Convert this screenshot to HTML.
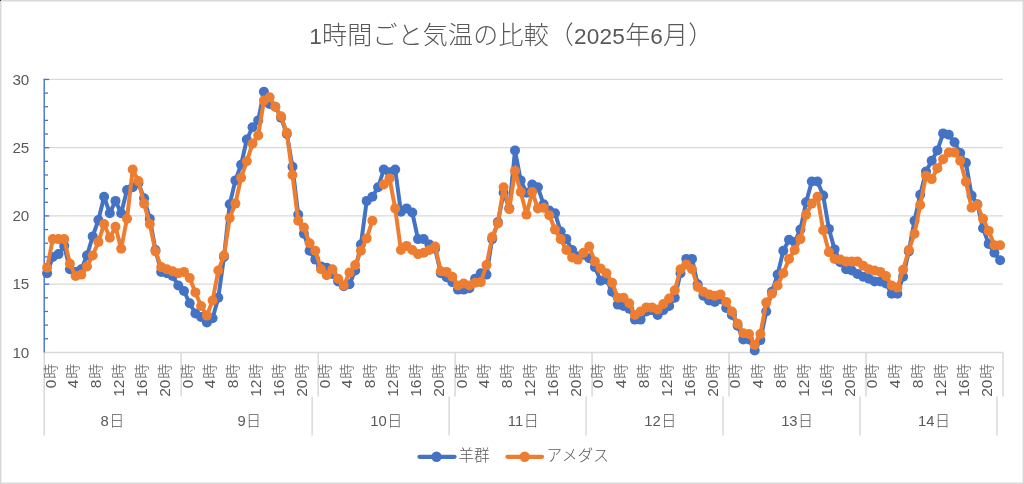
<!DOCTYPE html>
<html lang="ja"><head><meta charset="utf-8"><title>1時間ごと気温の比較（2025年6月）</title>
<style>html,body{margin:0;padding:0;background:#fff;}body{width:1024px;height:484px;overflow:hidden;}svg{display:block;will-change:transform;}text{font-family:"Liberation Sans","Noto Sans CJK JP",sans-serif;fill:#595959;}.j{font-family:"Noto Sans CJK JP",sans-serif;font-weight:300;}.n{font-family:"Liberation Sans",sans-serif;}</style></head><body>
<svg width="1024" height="484" viewBox="0 0 1024 484">
<rect x="0" y="0" width="1024" height="484" fill="#fff"/>
<rect x="0.75" y="0.75" width="1022.5" height="482.5" fill="none" stroke="#D9D9D9" stroke-width="1.5"/>
<rect x="0" y="0" width="1" height="1" fill="#3a3a3a"/>
<line x1="44.2" y1="79.45" x2="1003" y2="79.45" stroke="#D9D9D9" stroke-width="1.3"/>
<line x1="44.2" y1="147.688" x2="1003" y2="147.688" stroke="#D9D9D9" stroke-width="1.3"/>
<line x1="44.2" y1="215.925" x2="1003" y2="215.925" stroke="#D9D9D9" stroke-width="1.3"/>
<line x1="44.2" y1="284.162" x2="1003" y2="284.162" stroke="#D9D9D9" stroke-width="1.3"/>
<line x1="44.2" y1="352.4" x2="1003" y2="352.4" stroke="#D9D9D9" stroke-width="1.5"/>
<line x1="44.2" y1="352.4" x2="44.2" y2="435.5" stroke="#D9D9D9" stroke-width="1.5"/>
<line x1="181.171" y1="352.4" x2="181.171" y2="396.6" stroke="#D9D9D9" stroke-width="1.5"/>
<line x1="318.143" y1="352.4" x2="318.143" y2="396.6" stroke="#D9D9D9" stroke-width="1.5"/>
<line x1="455.114" y1="352.4" x2="455.114" y2="396.6" stroke="#D9D9D9" stroke-width="1.5"/>
<line x1="592.086" y1="352.4" x2="592.086" y2="396.6" stroke="#D9D9D9" stroke-width="1.5"/>
<line x1="729.057" y1="352.4" x2="729.057" y2="396.6" stroke="#D9D9D9" stroke-width="1.5"/>
<line x1="866.029" y1="352.4" x2="866.029" y2="396.6" stroke="#D9D9D9" stroke-width="1.5"/>
<line x1="1003" y1="352.4" x2="1003" y2="396.6" stroke="#D9D9D9" stroke-width="1.5"/>
<line x1="312.143" y1="396.6" x2="312.143" y2="435.5" stroke="#D9D9D9" stroke-width="1.5"/>
<line x1="449.114" y1="396.6" x2="449.114" y2="435.5" stroke="#D9D9D9" stroke-width="1.5"/>
<line x1="586.086" y1="396.6" x2="586.086" y2="435.5" stroke="#D9D9D9" stroke-width="1.5"/>
<line x1="723.057" y1="396.6" x2="723.057" y2="435.5" stroke="#D9D9D9" stroke-width="1.5"/>
<line x1="860.029" y1="396.6" x2="860.029" y2="435.5" stroke="#D9D9D9" stroke-width="1.5"/>
<line x1="997" y1="396.6" x2="997" y2="435.5" stroke="#D9D9D9" stroke-width="1.5"/>
<text class="n" x="29.3" y="84.75" font-size="15.2" text-anchor="end">30</text>
<text class="n" x="29.3" y="152.988" font-size="15.2" text-anchor="end">25</text>
<text class="n" x="29.3" y="221.225" font-size="15.2" text-anchor="end">20</text>
<text class="n" x="29.3" y="289.462" font-size="15.2" text-anchor="end">15</text>
<text class="n" x="29.3" y="357.7" font-size="15.2" text-anchor="end">10</text>
<text transform="translate(55.60,363.8) rotate(-90)" text-anchor="end"><tspan class="n" font-size="15.5">0</tspan><tspan class="j" font-size="15" dx="0.8">時</tspan></text>
<text transform="translate(78.43,363.8) rotate(-90)" text-anchor="end"><tspan class="n" font-size="15.5">4</tspan><tspan class="j" font-size="15" dx="0.8">時</tspan></text>
<text transform="translate(101.26,363.8) rotate(-90)" text-anchor="end"><tspan class="n" font-size="15.5">8</tspan><tspan class="j" font-size="15" dx="0.8">時</tspan></text>
<text transform="translate(124.09,363.8) rotate(-90)" text-anchor="end"><tspan class="n" font-size="15.5">12</tspan><tspan class="j" font-size="15" dx="0.8">時</tspan></text>
<text transform="translate(146.91,363.8) rotate(-90)" text-anchor="end"><tspan class="n" font-size="15.5">16</tspan><tspan class="j" font-size="15" dx="0.8">時</tspan></text>
<text transform="translate(169.74,363.8) rotate(-90)" text-anchor="end"><tspan class="n" font-size="15.5">20</tspan><tspan class="j" font-size="15" dx="0.8">時</tspan></text>
<text transform="translate(192.57,363.8) rotate(-90)" text-anchor="end"><tspan class="n" font-size="15.5">0</tspan><tspan class="j" font-size="15" dx="0.8">時</tspan></text>
<text transform="translate(215.40,363.8) rotate(-90)" text-anchor="end"><tspan class="n" font-size="15.5">4</tspan><tspan class="j" font-size="15" dx="0.8">時</tspan></text>
<text transform="translate(238.23,363.8) rotate(-90)" text-anchor="end"><tspan class="n" font-size="15.5">8</tspan><tspan class="j" font-size="15" dx="0.8">時</tspan></text>
<text transform="translate(261.06,363.8) rotate(-90)" text-anchor="end"><tspan class="n" font-size="15.5">12</tspan><tspan class="j" font-size="15" dx="0.8">時</tspan></text>
<text transform="translate(283.89,363.8) rotate(-90)" text-anchor="end"><tspan class="n" font-size="15.5">16</tspan><tspan class="j" font-size="15" dx="0.8">時</tspan></text>
<text transform="translate(306.71,363.8) rotate(-90)" text-anchor="end"><tspan class="n" font-size="15.5">20</tspan><tspan class="j" font-size="15" dx="0.8">時</tspan></text>
<text transform="translate(329.54,363.8) rotate(-90)" text-anchor="end"><tspan class="n" font-size="15.5">0</tspan><tspan class="j" font-size="15" dx="0.8">時</tspan></text>
<text transform="translate(352.37,363.8) rotate(-90)" text-anchor="end"><tspan class="n" font-size="15.5">4</tspan><tspan class="j" font-size="15" dx="0.8">時</tspan></text>
<text transform="translate(375.20,363.8) rotate(-90)" text-anchor="end"><tspan class="n" font-size="15.5">8</tspan><tspan class="j" font-size="15" dx="0.8">時</tspan></text>
<text transform="translate(398.03,363.8) rotate(-90)" text-anchor="end"><tspan class="n" font-size="15.5">12</tspan><tspan class="j" font-size="15" dx="0.8">時</tspan></text>
<text transform="translate(420.86,363.8) rotate(-90)" text-anchor="end"><tspan class="n" font-size="15.5">16</tspan><tspan class="j" font-size="15" dx="0.8">時</tspan></text>
<text transform="translate(443.69,363.8) rotate(-90)" text-anchor="end"><tspan class="n" font-size="15.5">20</tspan><tspan class="j" font-size="15" dx="0.8">時</tspan></text>
<text transform="translate(466.51,363.8) rotate(-90)" text-anchor="end"><tspan class="n" font-size="15.5">0</tspan><tspan class="j" font-size="15" dx="0.8">時</tspan></text>
<text transform="translate(489.34,363.8) rotate(-90)" text-anchor="end"><tspan class="n" font-size="15.5">4</tspan><tspan class="j" font-size="15" dx="0.8">時</tspan></text>
<text transform="translate(512.17,363.8) rotate(-90)" text-anchor="end"><tspan class="n" font-size="15.5">8</tspan><tspan class="j" font-size="15" dx="0.8">時</tspan></text>
<text transform="translate(535.00,363.8) rotate(-90)" text-anchor="end"><tspan class="n" font-size="15.5">12</tspan><tspan class="j" font-size="15" dx="0.8">時</tspan></text>
<text transform="translate(557.83,363.8) rotate(-90)" text-anchor="end"><tspan class="n" font-size="15.5">16</tspan><tspan class="j" font-size="15" dx="0.8">時</tspan></text>
<text transform="translate(580.66,363.8) rotate(-90)" text-anchor="end"><tspan class="n" font-size="15.5">20</tspan><tspan class="j" font-size="15" dx="0.8">時</tspan></text>
<text transform="translate(603.49,363.8) rotate(-90)" text-anchor="end"><tspan class="n" font-size="15.5">0</tspan><tspan class="j" font-size="15" dx="0.8">時</tspan></text>
<text transform="translate(626.31,363.8) rotate(-90)" text-anchor="end"><tspan class="n" font-size="15.5">4</tspan><tspan class="j" font-size="15" dx="0.8">時</tspan></text>
<text transform="translate(649.14,363.8) rotate(-90)" text-anchor="end"><tspan class="n" font-size="15.5">8</tspan><tspan class="j" font-size="15" dx="0.8">時</tspan></text>
<text transform="translate(671.97,363.8) rotate(-90)" text-anchor="end"><tspan class="n" font-size="15.5">12</tspan><tspan class="j" font-size="15" dx="0.8">時</tspan></text>
<text transform="translate(694.80,363.8) rotate(-90)" text-anchor="end"><tspan class="n" font-size="15.5">16</tspan><tspan class="j" font-size="15" dx="0.8">時</tspan></text>
<text transform="translate(717.63,363.8) rotate(-90)" text-anchor="end"><tspan class="n" font-size="15.5">20</tspan><tspan class="j" font-size="15" dx="0.8">時</tspan></text>
<text transform="translate(740.46,363.8) rotate(-90)" text-anchor="end"><tspan class="n" font-size="15.5">0</tspan><tspan class="j" font-size="15" dx="0.8">時</tspan></text>
<text transform="translate(763.29,363.8) rotate(-90)" text-anchor="end"><tspan class="n" font-size="15.5">4</tspan><tspan class="j" font-size="15" dx="0.8">時</tspan></text>
<text transform="translate(786.11,363.8) rotate(-90)" text-anchor="end"><tspan class="n" font-size="15.5">8</tspan><tspan class="j" font-size="15" dx="0.8">時</tspan></text>
<text transform="translate(808.94,363.8) rotate(-90)" text-anchor="end"><tspan class="n" font-size="15.5">12</tspan><tspan class="j" font-size="15" dx="0.8">時</tspan></text>
<text transform="translate(831.77,363.8) rotate(-90)" text-anchor="end"><tspan class="n" font-size="15.5">16</tspan><tspan class="j" font-size="15" dx="0.8">時</tspan></text>
<text transform="translate(854.60,363.8) rotate(-90)" text-anchor="end"><tspan class="n" font-size="15.5">20</tspan><tspan class="j" font-size="15" dx="0.8">時</tspan></text>
<text transform="translate(877.43,363.8) rotate(-90)" text-anchor="end"><tspan class="n" font-size="15.5">0</tspan><tspan class="j" font-size="15" dx="0.8">時</tspan></text>
<text transform="translate(900.26,363.8) rotate(-90)" text-anchor="end"><tspan class="n" font-size="15.5">4</tspan><tspan class="j" font-size="15" dx="0.8">時</tspan></text>
<text transform="translate(923.09,363.8) rotate(-90)" text-anchor="end"><tspan class="n" font-size="15.5">8</tspan><tspan class="j" font-size="15" dx="0.8">時</tspan></text>
<text transform="translate(945.91,363.8) rotate(-90)" text-anchor="end"><tspan class="n" font-size="15.5">12</tspan><tspan class="j" font-size="15" dx="0.8">時</tspan></text>
<text transform="translate(968.74,363.8) rotate(-90)" text-anchor="end"><tspan class="n" font-size="15.5">16</tspan><tspan class="j" font-size="15" dx="0.8">時</tspan></text>
<text transform="translate(991.57,363.8) rotate(-90)" text-anchor="end"><tspan class="n" font-size="15.5">20</tspan><tspan class="j" font-size="15" dx="0.8">時</tspan></text>
<text x="112.29" y="426.3" text-anchor="middle"><tspan class="n" font-size="14.8">8</tspan><tspan class="j" font-size="15" dx="0.5">日</tspan></text>
<text x="249.26" y="426.3" text-anchor="middle"><tspan class="n" font-size="14.8">9</tspan><tspan class="j" font-size="15" dx="0.5">日</tspan></text>
<text x="386.23" y="426.3" text-anchor="middle"><tspan class="n" font-size="14.8">10</tspan><tspan class="j" font-size="15" dx="0.5">日</tspan></text>
<text x="523.20" y="426.3" text-anchor="middle"><tspan class="n" font-size="14.8">11</tspan><tspan class="j" font-size="15" dx="0.5">日</tspan></text>
<text x="660.17" y="426.3" text-anchor="middle"><tspan class="n" font-size="14.8">12</tspan><tspan class="j" font-size="15" dx="0.5">日</tspan></text>
<text x="797.14" y="426.3" text-anchor="middle"><tspan class="n" font-size="14.8">13</tspan><tspan class="j" font-size="15" dx="0.5">日</tspan></text>
<text x="934.11" y="426.3" text-anchor="middle"><tspan class="n" font-size="14.8">14</tspan><tspan class="j" font-size="15" dx="0.5">日</tspan></text>
<text x="511.4" y="43.9" text-anchor="middle" letter-spacing="0.2" fill="#595959"><tspan class="n" font-size="22.6">1</tspan><tspan class="j" font-size="25">時間ごと気温の比較（</tspan><tspan class="n" font-size="22.6">2025</tspan><tspan class="j" font-size="25">年</tspan><tspan class="n" font-size="22.6">6</tspan><tspan class="j" font-size="25">月）</tspan></text>
<line x1="44.2" y1="78.85" x2="44.2" y2="352.4" stroke="#4472C4" stroke-width="1.4"/>
<line x1="44.2" y1="338.752" x2="48" y2="338.752" stroke="#4472C4" stroke-width="1.3"/>
<line x1="44.2" y1="325.105" x2="48" y2="325.105" stroke="#4472C4" stroke-width="1.3"/>
<line x1="44.2" y1="311.457" x2="48" y2="311.457" stroke="#4472C4" stroke-width="1.3"/>
<line x1="44.2" y1="297.81" x2="48" y2="297.81" stroke="#4472C4" stroke-width="1.3"/>
<line x1="44.2" y1="284.162" x2="49.2" y2="284.162" stroke="#4472C4" stroke-width="1.3"/>
<line x1="44.2" y1="270.515" x2="48" y2="270.515" stroke="#4472C4" stroke-width="1.3"/>
<line x1="44.2" y1="256.867" x2="48" y2="256.867" stroke="#4472C4" stroke-width="1.3"/>
<line x1="44.2" y1="243.22" x2="48" y2="243.22" stroke="#4472C4" stroke-width="1.3"/>
<line x1="44.2" y1="229.572" x2="48" y2="229.572" stroke="#4472C4" stroke-width="1.3"/>
<line x1="44.2" y1="215.925" x2="49.2" y2="215.925" stroke="#4472C4" stroke-width="1.3"/>
<line x1="44.2" y1="202.277" x2="48" y2="202.277" stroke="#4472C4" stroke-width="1.3"/>
<line x1="44.2" y1="188.63" x2="48" y2="188.63" stroke="#4472C4" stroke-width="1.3"/>
<line x1="44.2" y1="174.982" x2="48" y2="174.982" stroke="#4472C4" stroke-width="1.3"/>
<line x1="44.2" y1="161.335" x2="48" y2="161.335" stroke="#4472C4" stroke-width="1.3"/>
<line x1="44.2" y1="147.688" x2="49.2" y2="147.688" stroke="#4472C4" stroke-width="1.3"/>
<line x1="44.2" y1="134.04" x2="48" y2="134.04" stroke="#4472C4" stroke-width="1.3"/>
<line x1="44.2" y1="120.392" x2="48" y2="120.392" stroke="#4472C4" stroke-width="1.3"/>
<line x1="44.2" y1="106.745" x2="48" y2="106.745" stroke="#4472C4" stroke-width="1.3"/>
<line x1="44.2" y1="93.0975" x2="48" y2="93.0975" stroke="#4472C4" stroke-width="1.3"/>
<line x1="44.2" y1="79.45" x2="49.2" y2="79.45" stroke="#4472C4" stroke-width="1.3"/>
<polyline fill="none" stroke="#4472C4" stroke-width="4" stroke-linejoin="round" stroke-linecap="round" points="47.1,273.2 52.8,256.9 58.5,254.1 64.2,245.9 69.9,269.2 75.6,271.9 81.3,269.2 87.0,255.5 92.7,236.4 98.4,220.0 104.1,196.8 109.8,213.2 115.5,200.9 121.2,213.2 127.0,190.0 132.7,187.3 138.4,183.2 144.1,198.2 149.8,218.7 155.5,250.0 161.2,271.9 166.9,273.2 172.6,276.0 178.3,285.5 184.0,291.0 189.7,303.3 195.4,313.5 201.1,316.9 206.9,322.4 212.6,318.3 218.3,297.8 224.0,256.9 229.7,204.2 235.4,180.4 241.1,164.7 246.8,139.5 252.5,127.2 258.2,120.4 263.9,91.7 269.6,104.0 275.3,106.7 281.0,117.7 286.8,134.0 292.5,166.8 298.2,214.6 303.9,233.7 309.6,250.7 315.3,259.6 321.0,266.4 326.7,267.8 332.4,273.9 338.1,281.4 343.8,286.2 349.5,284.2 355.2,270.5 360.9,244.6 366.7,200.9 372.4,196.8 378.1,187.3 383.8,169.5 389.5,172.3 395.2,169.5 400.9,211.8 406.6,208.4 412.3,212.5 418.0,239.1 423.7,239.1 429.4,244.6 435.1,248.7 440.8,273.2 446.6,277.3 452.3,282.1 458.0,289.6 463.7,289.6 469.4,288.3 475.1,278.7 480.8,273.2 486.5,274.6 492.2,239.1 497.9,222.1 503.6,192.7 509.3,208.4 515.0,150.4 520.7,180.4 526.5,192.7 532.2,184.5 537.9,187.3 543.6,204.3 549.3,210.5 555.0,213.2 560.7,231.6 566.4,239.1 572.1,250.0 577.8,256.2 583.5,254.8 589.2,258.2 594.9,267.1 600.6,280.8 606.4,279.4 612.1,291.7 617.8,304.6 623.5,306.0 629.2,308.7 634.9,319.6 640.6,319.6 646.3,311.5 652.0,310.1 657.7,314.9 663.4,310.1 669.1,306.0 674.8,297.8 680.5,273.2 686.3,258.9 692.0,258.9 697.7,284.2 703.4,295.8 709.1,300.5 714.8,301.9 720.5,299.2 726.2,308.0 731.9,314.9 737.6,325.8 743.3,339.4 749.0,339.4 754.7,350.4 760.4,340.1 766.2,311.5 771.9,291.7 777.6,274.6 783.3,250.7 789.0,239.8 794.7,241.9 800.4,229.6 806.1,202.3 811.8,181.5 817.5,181.5 823.2,195.5 828.9,228.9 834.6,249.4 840.3,262.3 846.1,269.2 851.8,270.5 857.5,273.9 863.2,276.7 868.9,278.7 874.6,281.4 880.3,281.4 886.0,283.5 891.7,293.7 897.4,293.7 903.1,276.7 908.8,251.4 914.5,220.7 920.2,194.8 926.0,171.6 931.7,160.7 937.4,150.4 943.1,133.4 948.8,134.7 954.5,142.2 960.2,153.1 965.9,162.7 971.6,195.5 977.3,204.3 983.0,228.2 988.7,243.9 994.4,252.8 1000.1,260.3"/>
<g fill="#4472C4"><circle cx="47.1" cy="273.2" r="5.0"/><circle cx="52.8" cy="256.9" r="5.0"/><circle cx="58.5" cy="254.1" r="5.0"/><circle cx="64.2" cy="245.9" r="5.0"/><circle cx="69.9" cy="269.2" r="5.0"/><circle cx="75.6" cy="271.9" r="5.0"/><circle cx="81.3" cy="269.2" r="5.0"/><circle cx="87.0" cy="255.5" r="5.0"/><circle cx="92.7" cy="236.4" r="5.0"/><circle cx="98.4" cy="220.0" r="5.0"/><circle cx="104.1" cy="196.8" r="5.0"/><circle cx="109.8" cy="213.2" r="5.0"/><circle cx="115.5" cy="200.9" r="5.0"/><circle cx="121.2" cy="213.2" r="5.0"/><circle cx="127.0" cy="190.0" r="5.0"/><circle cx="132.7" cy="187.3" r="5.0"/><circle cx="138.4" cy="183.2" r="5.0"/><circle cx="144.1" cy="198.2" r="5.0"/><circle cx="149.8" cy="218.7" r="5.0"/><circle cx="155.5" cy="250.0" r="5.0"/><circle cx="161.2" cy="271.9" r="5.0"/><circle cx="166.9" cy="273.2" r="5.0"/><circle cx="172.6" cy="276.0" r="5.0"/><circle cx="178.3" cy="285.5" r="5.0"/><circle cx="184.0" cy="291.0" r="5.0"/><circle cx="189.7" cy="303.3" r="5.0"/><circle cx="195.4" cy="313.5" r="5.0"/><circle cx="201.1" cy="316.9" r="5.0"/><circle cx="206.9" cy="322.4" r="5.0"/><circle cx="212.6" cy="318.3" r="5.0"/><circle cx="218.3" cy="297.8" r="5.0"/><circle cx="224.0" cy="256.9" r="5.0"/><circle cx="229.7" cy="204.2" r="5.0"/><circle cx="235.4" cy="180.4" r="5.0"/><circle cx="241.1" cy="164.7" r="5.0"/><circle cx="246.8" cy="139.5" r="5.0"/><circle cx="252.5" cy="127.2" r="5.0"/><circle cx="258.2" cy="120.4" r="5.0"/><circle cx="263.9" cy="91.7" r="5.0"/><circle cx="269.6" cy="104.0" r="5.0"/><circle cx="275.3" cy="106.7" r="5.0"/><circle cx="281.0" cy="117.7" r="5.0"/><circle cx="286.8" cy="134.0" r="5.0"/><circle cx="292.5" cy="166.8" r="5.0"/><circle cx="298.2" cy="214.6" r="5.0"/><circle cx="303.9" cy="233.7" r="5.0"/><circle cx="309.6" cy="250.7" r="5.0"/><circle cx="315.3" cy="259.6" r="5.0"/><circle cx="321.0" cy="266.4" r="5.0"/><circle cx="326.7" cy="267.8" r="5.0"/><circle cx="332.4" cy="273.9" r="5.0"/><circle cx="338.1" cy="281.4" r="5.0"/><circle cx="343.8" cy="286.2" r="5.0"/><circle cx="349.5" cy="284.2" r="5.0"/><circle cx="355.2" cy="270.5" r="5.0"/><circle cx="360.9" cy="244.6" r="5.0"/><circle cx="366.7" cy="200.9" r="5.0"/><circle cx="372.4" cy="196.8" r="5.0"/><circle cx="378.1" cy="187.3" r="5.0"/><circle cx="383.8" cy="169.5" r="5.0"/><circle cx="389.5" cy="172.3" r="5.0"/><circle cx="395.2" cy="169.5" r="5.0"/><circle cx="400.9" cy="211.8" r="5.0"/><circle cx="406.6" cy="208.4" r="5.0"/><circle cx="412.3" cy="212.5" r="5.0"/><circle cx="418.0" cy="239.1" r="5.0"/><circle cx="423.7" cy="239.1" r="5.0"/><circle cx="429.4" cy="244.6" r="5.0"/><circle cx="435.1" cy="248.7" r="5.0"/><circle cx="440.8" cy="273.2" r="5.0"/><circle cx="446.6" cy="277.3" r="5.0"/><circle cx="452.3" cy="282.1" r="5.0"/><circle cx="458.0" cy="289.6" r="5.0"/><circle cx="463.7" cy="289.6" r="5.0"/><circle cx="469.4" cy="288.3" r="5.0"/><circle cx="475.1" cy="278.7" r="5.0"/><circle cx="480.8" cy="273.2" r="5.0"/><circle cx="486.5" cy="274.6" r="5.0"/><circle cx="492.2" cy="239.1" r="5.0"/><circle cx="497.9" cy="222.1" r="5.0"/><circle cx="503.6" cy="192.7" r="5.0"/><circle cx="509.3" cy="208.4" r="5.0"/><circle cx="515.0" cy="150.4" r="5.0"/><circle cx="520.7" cy="180.4" r="5.0"/><circle cx="526.5" cy="192.7" r="5.0"/><circle cx="532.2" cy="184.5" r="5.0"/><circle cx="537.9" cy="187.3" r="5.0"/><circle cx="543.6" cy="204.3" r="5.0"/><circle cx="549.3" cy="210.5" r="5.0"/><circle cx="555.0" cy="213.2" r="5.0"/><circle cx="560.7" cy="231.6" r="5.0"/><circle cx="566.4" cy="239.1" r="5.0"/><circle cx="572.1" cy="250.0" r="5.0"/><circle cx="577.8" cy="256.2" r="5.0"/><circle cx="583.5" cy="254.8" r="5.0"/><circle cx="589.2" cy="258.2" r="5.0"/><circle cx="594.9" cy="267.1" r="5.0"/><circle cx="600.6" cy="280.8" r="5.0"/><circle cx="606.4" cy="279.4" r="5.0"/><circle cx="612.1" cy="291.7" r="5.0"/><circle cx="617.8" cy="304.6" r="5.0"/><circle cx="623.5" cy="306.0" r="5.0"/><circle cx="629.2" cy="308.7" r="5.0"/><circle cx="634.9" cy="319.6" r="5.0"/><circle cx="640.6" cy="319.6" r="5.0"/><circle cx="646.3" cy="311.5" r="5.0"/><circle cx="652.0" cy="310.1" r="5.0"/><circle cx="657.7" cy="314.9" r="5.0"/><circle cx="663.4" cy="310.1" r="5.0"/><circle cx="669.1" cy="306.0" r="5.0"/><circle cx="674.8" cy="297.8" r="5.0"/><circle cx="680.5" cy="273.2" r="5.0"/><circle cx="686.3" cy="258.9" r="5.0"/><circle cx="692.0" cy="258.9" r="5.0"/><circle cx="697.7" cy="284.2" r="5.0"/><circle cx="703.4" cy="295.8" r="5.0"/><circle cx="709.1" cy="300.5" r="5.0"/><circle cx="714.8" cy="301.9" r="5.0"/><circle cx="720.5" cy="299.2" r="5.0"/><circle cx="726.2" cy="308.0" r="5.0"/><circle cx="731.9" cy="314.9" r="5.0"/><circle cx="737.6" cy="325.8" r="5.0"/><circle cx="743.3" cy="339.4" r="5.0"/><circle cx="749.0" cy="339.4" r="5.0"/><circle cx="754.7" cy="350.4" r="5.0"/><circle cx="760.4" cy="340.1" r="5.0"/><circle cx="766.2" cy="311.5" r="5.0"/><circle cx="771.9" cy="291.7" r="5.0"/><circle cx="777.6" cy="274.6" r="5.0"/><circle cx="783.3" cy="250.7" r="5.0"/><circle cx="789.0" cy="239.8" r="5.0"/><circle cx="794.7" cy="241.9" r="5.0"/><circle cx="800.4" cy="229.6" r="5.0"/><circle cx="806.1" cy="202.3" r="5.0"/><circle cx="811.8" cy="181.5" r="5.0"/><circle cx="817.5" cy="181.5" r="5.0"/><circle cx="823.2" cy="195.5" r="5.0"/><circle cx="828.9" cy="228.9" r="5.0"/><circle cx="834.6" cy="249.4" r="5.0"/><circle cx="840.3" cy="262.3" r="5.0"/><circle cx="846.1" cy="269.2" r="5.0"/><circle cx="851.8" cy="270.5" r="5.0"/><circle cx="857.5" cy="273.9" r="5.0"/><circle cx="863.2" cy="276.7" r="5.0"/><circle cx="868.9" cy="278.7" r="5.0"/><circle cx="874.6" cy="281.4" r="5.0"/><circle cx="880.3" cy="281.4" r="5.0"/><circle cx="886.0" cy="283.5" r="5.0"/><circle cx="891.7" cy="293.7" r="5.0"/><circle cx="897.4" cy="293.7" r="5.0"/><circle cx="903.1" cy="276.7" r="5.0"/><circle cx="908.8" cy="251.4" r="5.0"/><circle cx="914.5" cy="220.7" r="5.0"/><circle cx="920.2" cy="194.8" r="5.0"/><circle cx="926.0" cy="171.6" r="5.0"/><circle cx="931.7" cy="160.7" r="5.0"/><circle cx="937.4" cy="150.4" r="5.0"/><circle cx="943.1" cy="133.4" r="5.0"/><circle cx="948.8" cy="134.7" r="5.0"/><circle cx="954.5" cy="142.2" r="5.0"/><circle cx="960.2" cy="153.1" r="5.0"/><circle cx="965.9" cy="162.7" r="5.0"/><circle cx="971.6" cy="195.5" r="5.0"/><circle cx="977.3" cy="204.3" r="5.0"/><circle cx="983.0" cy="228.2" r="5.0"/><circle cx="988.7" cy="243.9" r="5.0"/><circle cx="994.4" cy="252.8" r="5.0"/><circle cx="1000.1" cy="260.3" r="5.0"/></g>
<polyline fill="none" stroke="#ED7D31" stroke-width="4" stroke-linejoin="round" stroke-linecap="round" points="47.1,267.8 52.8,239.1 58.5,239.1 64.2,239.1 69.9,263.7 75.6,276.0 81.3,274.6 87.0,266.4 92.7,255.5 98.4,241.9 104.1,224.1 109.8,237.8 115.5,226.8 121.2,248.7 127.0,218.7 132.7,169.5 138.4,181.1 144.1,203.6 149.8,224.1 155.5,251.4 161.2,267.1 166.9,269.2 172.6,271.2 178.3,273.2 184.0,271.9 189.7,278.0 195.4,292.4 201.1,306.0 206.9,315.6 212.6,300.5 218.3,270.5 224.0,255.5 229.7,218.0 235.4,203.6 241.1,177.7 246.8,161.3 252.5,143.6 258.2,135.4 263.9,100.6 269.6,97.2 275.3,106.7 281.0,116.3 286.8,132.7 292.5,175.0 298.2,220.7 303.9,227.5 309.6,243.2 315.3,250.7 321.0,269.2 326.7,275.3 332.4,269.2 338.1,278.7 343.8,285.5 349.5,272.6 355.2,265.1 360.9,250.7 366.7,238.4 372.4,220.7"/>
<polyline fill="none" stroke="#ED7D31" stroke-width="4" stroke-linejoin="round" stroke-linecap="round" points="383.8,184.5 389.5,178.4 395.2,208.4 400.9,250.0 406.6,245.9 412.3,250.0 418.0,254.1 423.7,252.8 429.4,250.0 435.1,246.6 440.8,271.2 446.6,271.9 452.3,276.7 458.0,285.5 463.7,283.5 469.4,285.5 475.1,282.8 480.8,282.1 486.5,265.1 492.2,237.1 497.9,223.4 503.6,187.3 509.3,209.1 515.0,170.9 520.7,192.0 526.5,214.6 532.2,192.0 537.9,208.4 543.6,207.7 549.3,215.2 555.0,229.6 560.7,239.1 566.4,250.0 572.1,257.5 577.8,259.6 583.5,252.8 589.2,246.6 594.9,261.6 600.6,268.5 606.4,273.2 612.1,282.8 617.8,297.8 623.5,297.8 629.2,303.3 634.9,314.9 640.6,311.5 646.3,307.4 652.0,307.4 657.7,309.4 663.4,304.0 669.1,298.5 674.8,290.3 680.5,269.2 686.3,264.4 692.0,269.2 697.7,286.9 703.4,291.7 709.1,294.4 714.8,295.8 720.5,294.4 726.2,301.9 731.9,311.5 737.6,323.7 743.3,333.3 749.0,334.0 754.7,344.9 760.4,334.0 766.2,302.6 771.9,293.7 777.6,285.5 783.3,273.2 789.0,258.9 794.7,250.0 800.4,239.1 806.1,214.6 811.8,203.6 817.5,196.8 823.2,230.3 828.9,252.1 834.6,258.9 840.3,259.6 846.1,261.6 851.8,261.6 857.5,261.6 863.2,265.7 868.9,269.2 874.6,270.5 880.3,271.9 886.0,276.0 891.7,285.5 897.4,287.6 903.1,269.8 908.8,250.0 914.5,233.7 920.2,205.0 926.0,175.7 931.7,179.1 937.4,168.2 943.1,159.3 948.8,152.5 954.5,152.5 960.2,160.7 965.9,181.8 971.6,207.7 977.3,205.0 983.0,218.7 988.7,230.9 994.4,245.3 1000.1,245.3"/>
<g fill="#ED7D31"><circle cx="47.1" cy="267.8" r="5.0"/><circle cx="52.8" cy="239.1" r="5.0"/><circle cx="58.5" cy="239.1" r="5.0"/><circle cx="64.2" cy="239.1" r="5.0"/><circle cx="69.9" cy="263.7" r="5.0"/><circle cx="75.6" cy="276.0" r="5.0"/><circle cx="81.3" cy="274.6" r="5.0"/><circle cx="87.0" cy="266.4" r="5.0"/><circle cx="92.7" cy="255.5" r="5.0"/><circle cx="98.4" cy="241.9" r="5.0"/><circle cx="104.1" cy="224.1" r="5.0"/><circle cx="109.8" cy="237.8" r="5.0"/><circle cx="115.5" cy="226.8" r="5.0"/><circle cx="121.2" cy="248.7" r="5.0"/><circle cx="127.0" cy="218.7" r="5.0"/><circle cx="132.7" cy="169.5" r="5.0"/><circle cx="138.4" cy="181.1" r="5.0"/><circle cx="144.1" cy="203.6" r="5.0"/><circle cx="149.8" cy="224.1" r="5.0"/><circle cx="155.5" cy="251.4" r="5.0"/><circle cx="161.2" cy="267.1" r="5.0"/><circle cx="166.9" cy="269.2" r="5.0"/><circle cx="172.6" cy="271.2" r="5.0"/><circle cx="178.3" cy="273.2" r="5.0"/><circle cx="184.0" cy="271.9" r="5.0"/><circle cx="189.7" cy="278.0" r="5.0"/><circle cx="195.4" cy="292.4" r="5.0"/><circle cx="201.1" cy="306.0" r="5.0"/><circle cx="206.9" cy="315.6" r="5.0"/><circle cx="212.6" cy="300.5" r="5.0"/><circle cx="218.3" cy="270.5" r="5.0"/><circle cx="224.0" cy="255.5" r="5.0"/><circle cx="229.7" cy="218.0" r="5.0"/><circle cx="235.4" cy="203.6" r="5.0"/><circle cx="241.1" cy="177.7" r="5.0"/><circle cx="246.8" cy="161.3" r="5.0"/><circle cx="252.5" cy="143.6" r="5.0"/><circle cx="258.2" cy="135.4" r="5.0"/><circle cx="263.9" cy="100.6" r="5.0"/><circle cx="269.6" cy="97.2" r="5.0"/><circle cx="275.3" cy="106.7" r="5.0"/><circle cx="281.0" cy="116.3" r="5.0"/><circle cx="286.8" cy="132.7" r="5.0"/><circle cx="292.5" cy="175.0" r="5.0"/><circle cx="298.2" cy="220.7" r="5.0"/><circle cx="303.9" cy="227.5" r="5.0"/><circle cx="309.6" cy="243.2" r="5.0"/><circle cx="315.3" cy="250.7" r="5.0"/><circle cx="321.0" cy="269.2" r="5.0"/><circle cx="326.7" cy="275.3" r="5.0"/><circle cx="332.4" cy="269.2" r="5.0"/><circle cx="338.1" cy="278.7" r="5.0"/><circle cx="343.8" cy="285.5" r="5.0"/><circle cx="349.5" cy="272.6" r="5.0"/><circle cx="355.2" cy="265.1" r="5.0"/><circle cx="360.9" cy="250.7" r="5.0"/><circle cx="366.7" cy="238.4" r="5.0"/><circle cx="372.4" cy="220.7" r="5.0"/><circle cx="383.8" cy="184.5" r="5.0"/><circle cx="389.5" cy="178.4" r="5.0"/><circle cx="395.2" cy="208.4" r="5.0"/><circle cx="400.9" cy="250.0" r="5.0"/><circle cx="406.6" cy="245.9" r="5.0"/><circle cx="412.3" cy="250.0" r="5.0"/><circle cx="418.0" cy="254.1" r="5.0"/><circle cx="423.7" cy="252.8" r="5.0"/><circle cx="429.4" cy="250.0" r="5.0"/><circle cx="435.1" cy="246.6" r="5.0"/><circle cx="440.8" cy="271.2" r="5.0"/><circle cx="446.6" cy="271.9" r="5.0"/><circle cx="452.3" cy="276.7" r="5.0"/><circle cx="458.0" cy="285.5" r="5.0"/><circle cx="463.7" cy="283.5" r="5.0"/><circle cx="469.4" cy="285.5" r="5.0"/><circle cx="475.1" cy="282.8" r="5.0"/><circle cx="480.8" cy="282.1" r="5.0"/><circle cx="486.5" cy="265.1" r="5.0"/><circle cx="492.2" cy="237.1" r="5.0"/><circle cx="497.9" cy="223.4" r="5.0"/><circle cx="503.6" cy="187.3" r="5.0"/><circle cx="509.3" cy="209.1" r="5.0"/><circle cx="515.0" cy="170.9" r="5.0"/><circle cx="520.7" cy="192.0" r="5.0"/><circle cx="526.5" cy="214.6" r="5.0"/><circle cx="532.2" cy="192.0" r="5.0"/><circle cx="537.9" cy="208.4" r="5.0"/><circle cx="543.6" cy="207.7" r="5.0"/><circle cx="549.3" cy="215.2" r="5.0"/><circle cx="555.0" cy="229.6" r="5.0"/><circle cx="560.7" cy="239.1" r="5.0"/><circle cx="566.4" cy="250.0" r="5.0"/><circle cx="572.1" cy="257.5" r="5.0"/><circle cx="577.8" cy="259.6" r="5.0"/><circle cx="583.5" cy="252.8" r="5.0"/><circle cx="589.2" cy="246.6" r="5.0"/><circle cx="594.9" cy="261.6" r="5.0"/><circle cx="600.6" cy="268.5" r="5.0"/><circle cx="606.4" cy="273.2" r="5.0"/><circle cx="612.1" cy="282.8" r="5.0"/><circle cx="617.8" cy="297.8" r="5.0"/><circle cx="623.5" cy="297.8" r="5.0"/><circle cx="629.2" cy="303.3" r="5.0"/><circle cx="634.9" cy="314.9" r="5.0"/><circle cx="640.6" cy="311.5" r="5.0"/><circle cx="646.3" cy="307.4" r="5.0"/><circle cx="652.0" cy="307.4" r="5.0"/><circle cx="657.7" cy="309.4" r="5.0"/><circle cx="663.4" cy="304.0" r="5.0"/><circle cx="669.1" cy="298.5" r="5.0"/><circle cx="674.8" cy="290.3" r="5.0"/><circle cx="680.5" cy="269.2" r="5.0"/><circle cx="686.3" cy="264.4" r="5.0"/><circle cx="692.0" cy="269.2" r="5.0"/><circle cx="697.7" cy="286.9" r="5.0"/><circle cx="703.4" cy="291.7" r="5.0"/><circle cx="709.1" cy="294.4" r="5.0"/><circle cx="714.8" cy="295.8" r="5.0"/><circle cx="720.5" cy="294.4" r="5.0"/><circle cx="726.2" cy="301.9" r="5.0"/><circle cx="731.9" cy="311.5" r="5.0"/><circle cx="737.6" cy="323.7" r="5.0"/><circle cx="743.3" cy="333.3" r="5.0"/><circle cx="749.0" cy="334.0" r="5.0"/><circle cx="754.7" cy="344.9" r="5.0"/><circle cx="760.4" cy="334.0" r="5.0"/><circle cx="766.2" cy="302.6" r="5.0"/><circle cx="771.9" cy="293.7" r="5.0"/><circle cx="777.6" cy="285.5" r="5.0"/><circle cx="783.3" cy="273.2" r="5.0"/><circle cx="789.0" cy="258.9" r="5.0"/><circle cx="794.7" cy="250.0" r="5.0"/><circle cx="800.4" cy="239.1" r="5.0"/><circle cx="806.1" cy="214.6" r="5.0"/><circle cx="811.8" cy="203.6" r="5.0"/><circle cx="817.5" cy="196.8" r="5.0"/><circle cx="823.2" cy="230.3" r="5.0"/><circle cx="828.9" cy="252.1" r="5.0"/><circle cx="834.6" cy="258.9" r="5.0"/><circle cx="840.3" cy="259.6" r="5.0"/><circle cx="846.1" cy="261.6" r="5.0"/><circle cx="851.8" cy="261.6" r="5.0"/><circle cx="857.5" cy="261.6" r="5.0"/><circle cx="863.2" cy="265.7" r="5.0"/><circle cx="868.9" cy="269.2" r="5.0"/><circle cx="874.6" cy="270.5" r="5.0"/><circle cx="880.3" cy="271.9" r="5.0"/><circle cx="886.0" cy="276.0" r="5.0"/><circle cx="891.7" cy="285.5" r="5.0"/><circle cx="897.4" cy="287.6" r="5.0"/><circle cx="903.1" cy="269.8" r="5.0"/><circle cx="908.8" cy="250.0" r="5.0"/><circle cx="914.5" cy="233.7" r="5.0"/><circle cx="920.2" cy="205.0" r="5.0"/><circle cx="926.0" cy="175.7" r="5.0"/><circle cx="931.7" cy="179.1" r="5.0"/><circle cx="937.4" cy="168.2" r="5.0"/><circle cx="943.1" cy="159.3" r="5.0"/><circle cx="948.8" cy="152.5" r="5.0"/><circle cx="954.5" cy="152.5" r="5.0"/><circle cx="960.2" cy="160.7" r="5.0"/><circle cx="965.9" cy="181.8" r="5.0"/><circle cx="971.6" cy="207.7" r="5.0"/><circle cx="977.3" cy="205.0" r="5.0"/><circle cx="983.0" cy="218.7" r="5.0"/><circle cx="988.7" cy="230.9" r="5.0"/><circle cx="994.4" cy="245.3" r="5.0"/><circle cx="1000.1" cy="245.3" r="5.0"/></g>
<line x1="419.5" y1="456.8" x2="454.5" y2="456.8" stroke="#4472C4" stroke-width="4.3" stroke-linecap="round"/><circle cx="436.5" cy="456.8" r="5.2" fill="#4472C4"/>
<text class="j" x="458.5" y="461.3" font-size="15.6">羊群</text>
<line x1="507.5" y1="456.8" x2="542" y2="456.8" stroke="#ED7D31" stroke-width="4.3" stroke-linecap="round"/><circle cx="524.7" cy="456.8" r="5.2" fill="#ED7D31"/>
<text class="j" x="546.6" y="461.3" font-size="15.6" letter-spacing="0.25">アメダス</text>
</svg></body></html>
